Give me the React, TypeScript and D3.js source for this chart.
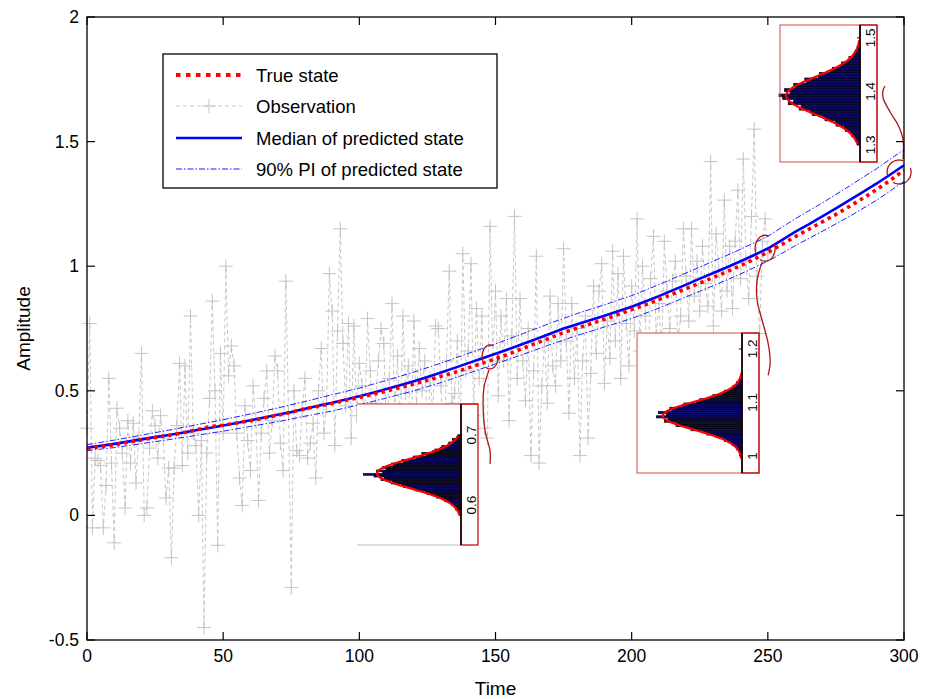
import React from 'react';
import * as d3 from 'd3';

// ---------------- DATA ----------------
const xTicks = [0, 50, 100, 150, 200, 250, 300];
const yTicks = [-0.5, 0, 0.5, 1, 1.5, 2];
const legendLabels = ['True state', 'Observation', 'Median of predicted state', '90% PI of predicted state'];

// time grid for state series (every 5 steps)
const stateTimes = d3.range(0, 301, 5);
const trueState = [
  0.268, 0.276, 0.283, 0.293, 0.303, 0.313, 0.321, 0.331, 0.343, 0.356,
  0.362, 0.371, 0.380, 0.391, 0.402, 0.414, 0.428, 0.438, 0.449, 0.462,
  0.473, 0.486, 0.499, 0.513, 0.527, 0.542, 0.558, 0.574, 0.592, 0.610,
  0.628, 0.648, 0.670, 0.691, 0.712, 0.734, 0.752, 0.769, 0.787, 0.806,
  0.826, 0.845, 0.866, 0.888, 0.910, 0.932, 0.955, 0.978, 1.002, 1.028,
  1.056, 1.086, 1.118, 1.148, 1.178, 1.208, 1.240, 1.273, 1.308, 1.345, 1.386,
];
const medianState = [
  0.272, 0.279, 0.287, 0.296, 0.305, 0.314, 0.323, 0.332, 0.342, 0.351,
  0.361, 0.371, 0.382, 0.393, 0.404, 0.415, 0.428, 0.440, 0.452, 0.465,
  0.478, 0.492, 0.507, 0.522, 0.538, 0.555, 0.573, 0.592, 0.611, 0.630,
  0.649, 0.668, 0.688, 0.708, 0.729, 0.750, 0.767, 0.784, 0.801, 0.819,
  0.837, 0.858, 0.880, 0.903, 0.926, 0.950, 0.973, 0.996, 1.020, 1.045,
  1.071, 1.104, 1.138, 1.168, 1.200, 1.232, 1.265, 1.298, 1.332, 1.368, 1.405,
];
// PI bounds every 10 steps
const piTimes = d3.range(0, 301, 10);
const piUpper = [
  0.284, 0.302, 0.322, 0.342, 0.363, 0.384, 0.407, 0.431, 0.457, 0.484,
  0.511, 0.542, 0.575, 0.611, 0.650, 0.688, 0.729, 0.771, 0.810, 0.845,
  0.882, 0.926, 0.973, 1.020, 1.068, 1.120, 1.190, 1.254, 1.322, 1.392, 1.468,
];
const piLower = [
  0.260, 0.272, 0.288, 0.304, 0.321, 0.338, 0.357, 0.376, 0.398, 0.419,
  0.444, 0.471, 0.500, 0.533, 0.570, 0.608, 0.646, 0.685, 0.722, 0.756,
  0.790, 0.832, 0.877, 0.922, 0.969, 1.020, 1.082, 1.140, 1.200, 1.265, 1.340,
];
// observations at t = 0..250
const observations = [
  0.35, 0.77, -0.05, 0.23, 0.22, 0.20, -0.05, 0.12, 0.55, 0.21,
  -0.11, 0.43, 0.35, 0.25, 0.03, 0.38, 0.21, 0.37, 0.13, 0.31,
  0.65, 0.00, 0.03, 0.27, 0.42, 0.36, 0.23, 0.40, 0.31, 0.07,
  0.19, -0.17, 0.19, 0.36, 0.61, 0.20, 0.60, 0.25, 0.80, 0.33,
  0.28, 0.00, 0.30, -0.45, 0.25, 0.47, 0.86, 0.50, -0.12, 0.65,
  0.33, 1.00, 0.56, 0.68, 0.60, 0.33, 0.15, 0.04, 0.44, 0.30,
  0.18, 0.52, 0.38, 0.06, 0.33, 0.47, 0.58, 0.25, 0.38, 0.64,
  0.58, 0.29, 0.18, 0.94, 0.41, -0.29, 0.50, 0.26, 0.24, 0.42,
  0.55, 0.23, 0.29, 0.37, 0.15, 0.50, 0.67, 0.33, 0.45, 0.97,
  0.82, 0.28, 0.74, 1.15, 0.69, 0.44, 0.77, 0.31, 0.76, 0.40,
  0.61, 0.52, 0.36, 0.79, 0.58, 0.27, 0.45, 0.62, 0.75, 0.69,
  0.30, 0.55, 0.85, 0.42, 0.64, 0.35, 0.80, 0.49, 0.60, 0.25,
  0.78, 0.44, 0.67, 0.50, 0.62, 0.33, 0.55, 0.41, 0.76, 0.75,
  0.52, 0.20, 0.62, 0.98, 0.45, 0.49, 0.70, 0.30, 1.05, 0.58,
  0.66, 1.01, 0.40, 0.83, 0.55, 0.80, 0.35, 0.31, 1.16, 0.62,
  0.90, 0.48, 0.80, 0.62, 0.87, 0.38, 0.72, 1.20, 0.55, 0.87,
  0.62, 0.46, 0.75, 0.24, 0.58, 1.04, 0.21, 0.52, 0.70, 0.45,
  0.88, 0.60, 0.52, 0.85, 0.62, 1.07, 0.70, 0.41, 0.85, 0.55,
  0.75, 0.24, 0.62, 0.80, 0.31, 0.57, 0.92, 0.65, 0.90, 1.01,
  0.53, 0.78, 0.63, 1.06, 0.70, 0.97, 0.55, 1.04, 0.77, 0.60,
  0.92, 0.74, 1.19, 0.66, 1.00, 0.80, 0.57, 0.95, 1.12, 0.72,
  0.85, 0.64, 1.10, 0.90, 0.75, 0.94, 1.02, 0.70, 0.80, 1.15,
  0.96, 0.78, 1.15, 0.88, 1.02, 0.82, 1.08, 0.93, 0.84, 1.42,
  0.76, 1.13, 0.98, 0.82, 1.265, 0.90, 1.08, 0.83, 1.10, 1.305,
  0.95, 1.43, 1.02, 0.87, 1.20, 1.55, 0.96, 0.73, 1.10, 1.19,
  1.05,
];

// histogram insets (predicted-state samples at t = 150, 250, 300)
const histAStart = 0.585, histABin = 0.0025;
const histACounts = [2, 3, 3, 6, 5, 9, 11, 12, 19, 20, 28, 30, 39, 41, 52, 55, 66, 68, 80, 79, 92, 88, 100, 112, 90, 97, 86, 90, 78, 80, 66, 68, 52, 55, 40, 45, 33, 30, 24, 22, 15, 14, 9, 10, 5, 4];
const histBStart = 0.995, histBBin = 0.004;
const histBCounts = [1, 1, 3, 3, 6, 6, 11, 12, 20, 22, 30, 40, 44, 58, 60, 75, 74, 88, 84, 97, 86, 95, 80, 82, 68, 66, 52, 48, 36, 33, 22, 20, 13, 11, 6, 6, 3, 3, 1, 1];
const histCStart = 1.30, histCBin = 0.005;
const histCCounts = [2, 4, 5, 9, 10, 16, 17, 26, 27, 38, 40, 52, 54, 66, 64, 78, 72, 84, 88, 76, 82, 70, 72, 58, 60, 45, 44, 32, 30, 21, 20, 13, 12, 7, 6, 3, 3, 1, 1];
const fitMeans = [0.645, 1.075, 1.392];
const fitSds = [0.021, 0.026, 0.035];
const insetTickValues = [[0.6, 0.7], [1, 1.1, 1.2], [1.3, 1.4, 1.5]];
// anchor points (time, amplitude) of the marked state in the main plot
const markTimes = [148, 249, 298.2];
const markValues = [0.636, 1.072, 1.378];

const FONT = '"Liberation Sans", Arial, Helvetica, sans-serif';

function Inset({ idx, counts, start, bin, layout }: any) {
  const { x0, x1, y0, y1, axisX, vDomain, pxPerCount, full } = layout;
  const v = d3.scaleLinear().domain(vDomain).range([y1, y0]);
  const c = d3.scaleLinear().domain([0, 100]).range([axisX, axisX - 100 * pxPerCount]);
  const n = d3.sum(counts);
  const mean = fitMeans[idx], sd = fitSds[idx];
  const lo = start, hi = start + bin * counts.length;
  const fitPts = d3.range(0, 121).map((k: number) => {
    const val = lo + (hi - lo) * (k / 120);
    const dens = (n * bin) / (sd * Math.sqrt(2 * Math.PI)) * Math.exp(-0.5 * ((val - mean) / sd) ** 2);
    return [c(dens), v(val)] as [number, number];
  });
  const fit = d3.line().curve(d3.curveLinear)(fitPts);
  return (
    <g>
      <rect x={x0} y={y0} width={x1 - x0} height={y1 - y0} fill="#fff" stroke="none" />
      {counts.map((cnt: number, i: number) => {
        const ya = v(start + (i + 1) * bin);
        const yb = v(start + i * bin);
        return (
          <rect key={i} x={c(cnt)} y={ya} width={axisX - c(cnt)} height={yb - ya}
            fill="#0b0b6e" stroke="#000" strokeWidth={0.7} />
        );
      })}
      <path d={fit || ''} fill="none" stroke="#ff0000" strokeWidth={2.2} />
      {full ? (
        <rect x={x0} y={y0} width={x1 - x0} height={y1 - y0} fill="none" stroke="#d24a4a" strokeWidth={1} />
      ) : (
        <g>
          <line x1={x0} x2={x1} y1={y0} y2={y0} stroke="#c82828" strokeWidth={1} />
          <line x1={x0} x2={axisX} y1={y1} y2={y1} stroke="#bdbdbd" strokeWidth={1} />
        </g>
      )}
      <rect x={axisX} y={y0} width={x1 - axisX} height={y1 - y0} fill="none" stroke="#c00000" strokeWidth={1.2} />
      <line x1={axisX} x2={axisX} y1={y0} y2={y1} stroke="#000" strokeWidth={1.6} />
      {insetTickValues[idx].map((t: number) => (
        <g key={t}>
          <line x1={axisX} x2={axisX - 3} y1={v(t)} y2={v(t)} stroke="#000" strokeWidth={1} />
          <text transform={`translate(${axisX + 10},${v(t)}) rotate(-90)`} textAnchor="middle"
            dominantBaseline="central" fontSize={13.5} fontFamily={FONT} fill="#000">
            {String(t)}
          </text>
        </g>
      ))}
    </g>
  );
}

export default function App() {
  const x = d3.scaleLinear().domain([0, 300]).range([87, 904]);
  const y = d3.scaleLinear().domain([-0.5, 2]).range([640, 17]);
  const line = d3.line<[number, number]>().x(d => x(d[0])).y(d => y(d[1]));

  const obsPts = observations.map((v, i) => [i, v] as [number, number]);
  const truePts = stateTimes.map((t, i) => [t, trueState[i]] as [number, number]);
  const medPts = stateTimes.map((t, i) => [t, medianState[i]] as [number, number]);
  const upPts = piTimes.map((t, i) => [t, piUpper[i]] as [number, number]);
  const loPts = piTimes.map((t, i) => [t, piLower[i]] as [number, number]);

  const [X0, X1] = x.range();
  const [Y0, Y1] = [y(2), y(-0.5)];

  const cross = 'M-7,0H7M0,-7V7';

  const insetLayouts = [
    { x0: 357, x1: 478, y0: 404, y1: 545, axisX: 461, vDomain: [0.5429, 0.7443], pxPerCount: 0.87, full: false },
    { x0: 637, x1: 759, y0: 333, y1: 473, axisX: 742, vDomain: [0.968, 1.2299], pxPerCount: 0.88, full: true },
    { x0: 780, x1: 877, y0: 25, y1: 162, axisX: 860, vDomain: [1.268, 1.524], pxPerCount: 0.92, full: true },
  ];
  const insetData = [
    { counts: histACounts, start: histAStart, bin: histABin },
    { counts: histBCounts, start: histBStart, bin: histBBin },
    { counts: histCCounts, start: histCStart, bin: histCBin },
  ];

  // decorative marks: ellipse + connector offsets (px) around each anchor
  const marks = [
    { rx: 8, ry: 12, conn: [[-1, 13], [-6, 30], [-7, 44], [-5, 74], [0, 94], [0, 107]] },
    { rx: 10, ry: 13, conn: [[-3, 14], [-8, 32], [-8, 52], [-3, 72], [3, 95], [5, 115], [3, 127]] },
    { rx: 12, ry: 12, conn: [[4, -13], [4, -32], [-1, -47], [-9, -60], [-16, -74], [-16, -82], [-14, -86]] },
  ];
  const arc = (cx: number, cy: number, rx: number, ry: number, a0: number, a1: number) => {
    const pts = d3.range(0, 25).map((k: number) => {
      const a = ((a0 + (a1 - a0) * k / 24) * Math.PI) / 180;
      return [cx + rx * Math.cos(a), cy + ry * Math.sin(a)] as [number, number];
    });
    return d3.line()(pts) || '';
  };
  const connLine = d3.line().curve(d3.curveCatmullRom);

  const legendX = 163, legendY = 54, legendW = 334, legendH = 134;
  const rowY = [75, 106, 138, 169];

  return (
    <svg width={930} height={699} style={{ position: 'absolute', left: 0, top: 0, background: '#fff' }}
      fontFamily={FONT}>
      <rect x={0} y={0} width={930} height={699} fill="#fff" />
      {/* observations */}
      <path d={line(obsPts) || ''} fill="none" stroke="#c8c8c8" strokeWidth={1} strokeDasharray="4,3" />
      {obsPts.map((p, i) => (
        <path key={i} d={cross} transform={`translate(${x(p[0])},${y(p[1])})`} stroke="#c4c4c4" strokeWidth={1} fill="none" />
      ))}
      {/* PI */}
      <path d={line(upPts) || ''} fill="none" stroke="#1f1fff" strokeWidth={1} strokeDasharray="6,2,1.5,2" />
      <path d={line(loPts) || ''} fill="none" stroke="#1f1fff" strokeWidth={1} strokeDasharray="6,2,1.5,2" />
      {/* median */}
      <path d={line(medPts) || ''} fill="none" stroke="#0000ff" strokeWidth={2.6} />
      {/* true state */}
      <path d={line(truePts) || ''} fill="none" stroke="#ff0000" strokeWidth={3.6} strokeDasharray="3.5,4" />

      {/* marks */}
      {marks.map((m, i) => {
        const cx = x(markTimes[i]), cy = y(markValues[i]);
        const pts = m.conn.map(o => [cx + o[0], cy + o[1]] as [number, number]);
        return (
          <g key={i} stroke="#b01515" strokeWidth={1.3} fill="none">
            <path d={arc(cx, cy, m.rx, m.ry, 160, 290)} />
            <path d={arc(cx, cy, m.rx, m.ry, -20, 120)} />
            <path d={connLine(pts) || ''} />
          </g>
        );
      })}

      {/* axes frame */}
      <rect x={X0} y={Y0} width={X1 - X0} height={Y1 - Y0} fill="none" stroke="#000" strokeWidth={1.3} />
      {yTicks.map(t => (
        <g key={t}>
          <line x1={X0} x2={X0 + 8} y1={y(t)} y2={y(t)} stroke="#000" strokeWidth={1.2} />
          <line x1={X1} x2={X1 - 8} y1={y(t)} y2={y(t)} stroke="#000" strokeWidth={1.2} />
          <text x={X0 - 8} y={y(t)} textAnchor="end" dominantBaseline="central" fontSize={17.5} fill="#000">
            {String(t)}
          </text>
        </g>
      ))}
      {xTicks.map(t => (
        <g key={t}>
          <line x1={x(t)} x2={x(t)} y1={Y1} y2={Y1 - 8} stroke="#000" strokeWidth={1.2} />
          <line x1={x(t)} x2={x(t)} y1={Y0} y2={Y0 + 8} stroke="#000" strokeWidth={1.2} />
          <text x={x(t)} y={Y1 + 22} textAnchor="middle" fontSize={17.5} fill="#000">{String(t)}</text>
        </g>
      ))}
      <text x={(X0 + X1) / 2} y={695} textAnchor="middle" fontSize={19} fill="#000">Time</text>
      <text transform={`translate(30,${(Y0 + Y1) / 2}) rotate(-90)`} textAnchor="middle" fontSize={19} fill="#000">Amplitude</text>

      {/* insets */}
      {insetLayouts.map((L, i) => (
        <Inset key={i} idx={i} counts={insetData[i].counts} start={insetData[i].start} bin={insetData[i].bin} layout={L} />
      ))}

      {/* legend */}
      <rect x={legendX} y={legendY} width={legendW} height={legendH} fill="#fff" stroke="#000" strokeWidth={1.3} />
      <line x1={176} x2={242} y1={rowY[0]} y2={rowY[0]} stroke="#ff0000" strokeWidth={4} strokeDasharray="4.5,5.5" />
      <line x1={176} x2={242} y1={rowY[1]} y2={rowY[1]} stroke="#c8c8c8" strokeWidth={1} strokeDasharray="4,3" />
      <path d={cross} transform={`translate(209,${rowY[1]})`} stroke="#c4c4c4" strokeWidth={1} fill="none" />
      <line x1={176} x2={242} y1={rowY[2]} y2={rowY[2]} stroke="#0000ff" strokeWidth={2.6} />
      <line x1={176} x2={242} y1={rowY[3]} y2={rowY[3]} stroke="#1f1fff" strokeWidth={1} strokeDasharray="6,2,1.5,2" />
      {legendLabels.map((l, i) => (
        <text key={l} x={256} y={rowY[i]} dominantBaseline="central" fontSize={18.5} fill="#000">{l}</text>
      ))}
    </svg>
  );
}
